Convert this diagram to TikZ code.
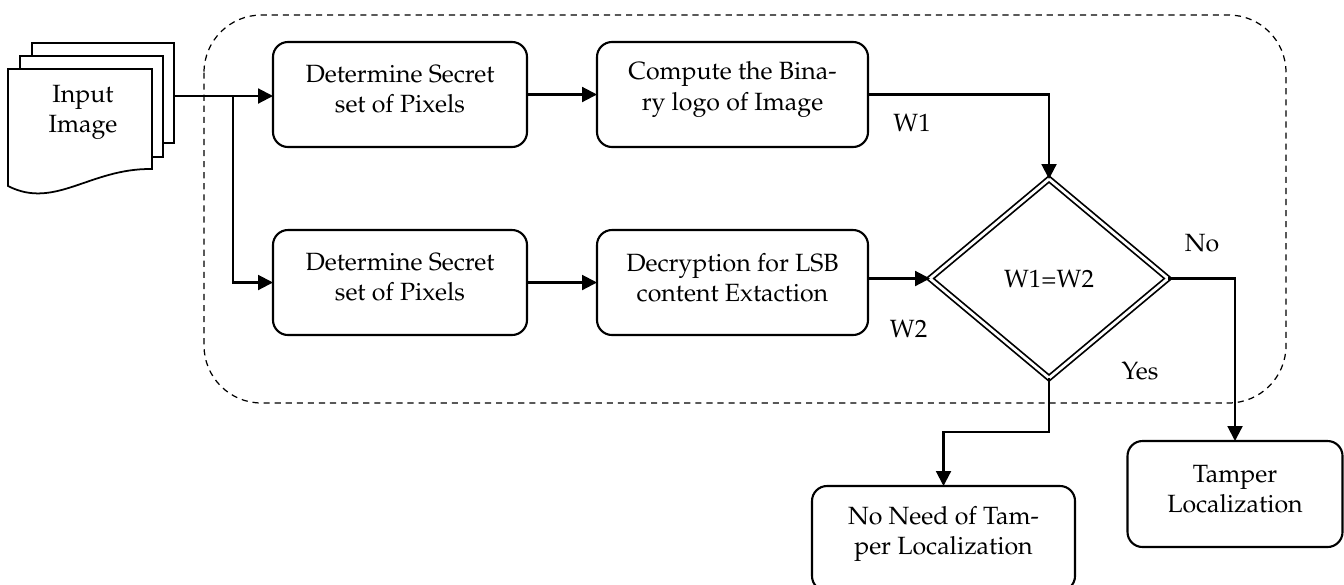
\documentclass[tikz,border=0pt]{standalone}
\usepackage[T1]{fontenc}
\usepackage{mathpazo}
\usetikzlibrary{shapes.geometric,positioning}
\usetikzlibrary{arrows.meta,calc}

\begin{document}
\begin{tikzpicture}[every node/.style={outer sep=0pt},line width=1.2pt,
        font=\fontsize{14.2}{17.1}\selectfont,
        procbox/.style={draw,rounded corners=0.3cm,minimum height=2.1cm},
        boxtext/.style={align=center,yshift=0.1cm},
        flow/.style={-{Triangle[length=8.5pt,width=8.5pt]}},
        decide/.style={diamond,draw,double,line width=1pt,double distance=1.6pt,
        minimum width=4.76cm,minimum height=3.98cm},
        sheet/.style={draw,fill=white,line width=1pt}]
        \useasboundingbox (0,0) rectangle (26.88,-11.68);

          % Dashed region
        \draw[line width=0.7pt,dash pattern=on 3.5pt off 2.8pt,rounded corners=1.15cm]
          (4.08,-0.3) rectangle (25.72,-8.06);

          % Input image (stacked sheets)
        \draw[sheet] (0.64,-0.86) rectangle (3.48,-2.86);
        \draw[sheet] (0.4,-1.12) rectangle (3.26,-3.14);
        \draw[sheet] (0.16,-1.38) -- (3.04,-1.38) -- (3.04,-3.38)
          .. controls (1.8,-3.36) and (1.1,-4.2) .. (0.16,-3.72) -- cycle;
        \node[align=center] (img) at (1.66,-2.24) {Input\\Image};
        \coordinate (imgout) at (3.48,-1.92);
        \coordinate (split) at (4.66,-1.92);

          % Process boxes
        \node[procbox,minimum width=5.08cm,
          label={[boxtext]center:{Determine Secret\\set of Pixels}}] (p1) at (8,-1.89) {};
        \node[procbox,minimum width=5.42cm,right=1.4cm of p1,
          label={[boxtext]center:{Compute the Bina-\\ry logo of Image}}] (p2) {};
        \node[procbox,minimum width=5.08cm,below=1.66cm of p1,
          label={[boxtext]center:{Determine Secret\\set of Pixels}}] (p3) {};
        \node[procbox,minimum width=5.42cm,below=1.66cm of p2,
          label={[boxtext]center:{Decryption for LSB\\content Extaction}}] (p4) {};

          % Decision
        \node[decide] (dec) at (20.98,-5.57) {W1=W2};

          % Results
        \node[procbox,minimum width=5.26cm,
          label={[boxtext]center:{No Need of Tam-\\per Localization}}] (keep) at (18.87,-10.77) {};
        \node[procbox,minimum width=4.3cm,minimum height=2.12cm,
          label={[boxtext]center:{Tamper\\Localization}}] (tamp) at (24.7,-9.88) {};

          % Labels
        \node (w1) at (18.24,-2.46) {W1};
        \node (w2) at (18.17,-6.58) {W2};
        \node (no) at (24.04,-4.86) {No};
        \node (yes) at (22.8,-7.42) {Yes};

          % Connectors
        \draw[flow] (imgout) -- (imgout-|p1.west);
        \draw[flow] (split) |- (p3.west);
        \draw[flow] (p1) -- (p2);
        \draw[flow] (p3) -- (p4);
        \draw[flow] (p2.east) -| (dec.north);
        \draw[flow] (p4.east|-dec.west) -- (dec.west);
        \draw[flow] (dec.east) -| (tamp.north);
        \draw[flow] (dec.south) -- ++(0,-1.08) -| (keep.north);

    \end{tikzpicture}
\end{document}
